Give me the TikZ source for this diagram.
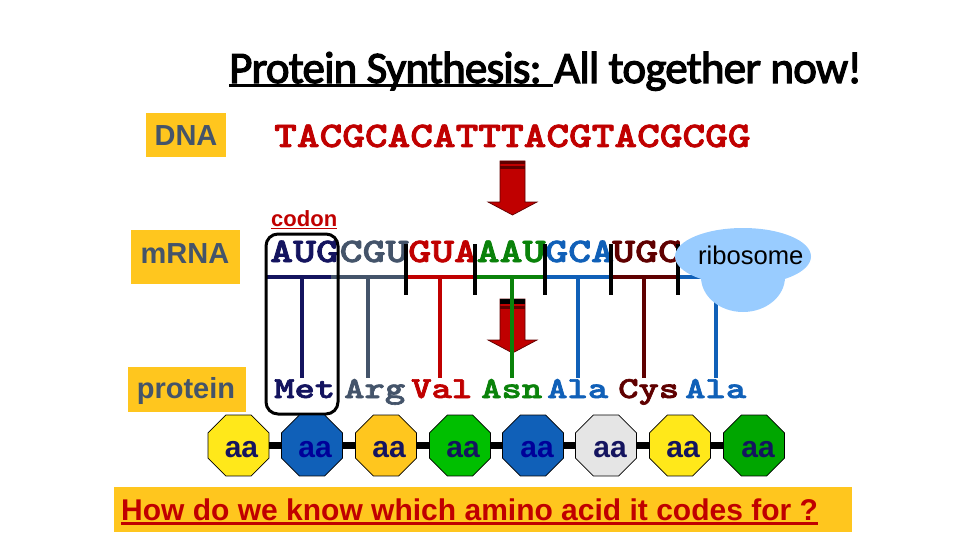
\documentclass[tikz,border=0pt]{standalone}
\usepackage{fontspec}
\usepackage{graphicx}
\usetikzlibrary{shapes.geometric}
\setmainfont{Liberation Sans}
\newfontfamily\titlefont[LetterSpace=-1.8]{Carlito}
\definecolor{boxor}{HTML}{FFC61E}
\definecolor{slate}{HTML}{44546A}
\definecolor{darkred}{HTML}{C00000}
\definecolor{navy}{HTML}{14145F}
\definecolor{grn}{HTML}{0A820A}
\definecolor{blu}{HTML}{1060B8}
\definecolor{maroon}{HTML}{5F0000}
\definecolor{ribo}{HTML}{99CCFF}
\definecolor{yel}{HTML}{FFE81A}
\newcommand{\emb}[2]{\special{pdf:code 2 Tr #1 w}#2\special{pdf:code 0 Tr 1 w}}
\newcommand{\cdn}[1]{{\ttfamily\bfseries\fontsize{34.4}{36}\selectfont\scalebox{1.27}[1]{\emb{0.7}{#1}}}}
\newcommand{\amn}[1]{{\ttfamily\bfseries\fontsize{30.5}{32}\selectfont\scalebox{1.27}[1]{\emb{0.6}{#1}}}}
\newcommand{\dnaq}[1]{{\ttfamily\bfseries\fontsize{36}{38}\selectfont\scalebox{1.2}[1]{\emb{0.7}{#1}}}}
\tikzset{
  lbl/.style={inner sep=0pt,text=slate,font=\bfseries\fontsize{29}{30}\selectfont},
  txt/.style={anchor=base west,inner sep=0pt},
  octa/.style={regular polygon,regular polygon sides=8,minimum size=66pt,inner sep=0pt,draw=black,line width=.6pt},
  aatext/.style={anchor=base,inner sep=0pt,text=navy,font=\bfseries\fontsize{30}{32}\selectfont},
  rail/.style={line width=4pt},
  drop/.style={line width=3.2pt},
  tick/.style={line width=3.5pt,black},
  pep/.style={line width=7pt,black},
  bigarrow/.style={fill=darkred,draw=maroon,line width=.7pt}
}
\begin{document}
\begin{tikzpicture}[x=1pt,y=-1pt]
\useasboundingbox (0,0) rectangle (960,540);
% title
\node[txt,font=\titlefont\fontsize{45}{47}\selectfont] (title) at (229,83) {\emb{1.2}{Protein Synthesis: All together now!}};
\coordinate (tu1) at (229,85.5);
\coordinate (tu2) at (553,85.5);
\draw[line width=3.5pt] (tu1) -- (tu2);
% label boxes
\fill[boxor] (146,113) rectangle (226,157);
\node[lbl] (dna) at (186,136) {DNA};
\fill[boxor] (131,230) rectangle (240,284);
\node[lbl] (mrna) at (185,254) {mRNA};
\fill[boxor] (128,367) rectangle (246,412);
\node[lbl] (prot) at (186,391) {protein};
% DNA
\node[txt,text=darkred] (dnaseq) at (274,147) {\dnaq{TACGCACATTTACGTACGCGG}};
% arrow 1
\path[bigarrow] (500,161) -- (525,161) -- (525,202) -- (537,202) -- (512.5,215) -- (488,202) -- (500,202) -- cycle;
\fill[maroon] (500,161) rectangle (525,164);
\fill[maroon] (500,166.5) rectangle (525,169);
% codon
\node[txt,text=darkred,font=\bfseries\fontsize{22}{24}\selectfont] (codon) at (271,226) {codon};
\coordinate (cu1) at (271,228.5);
\coordinate (cu2) at (337,228.5);
\draw[darkred,line width=1.4pt] (cu1) -- (cu2);
% mRNA codons
\node[txt,text=navy] (c1) at (270,262) {\cdn{AUG}};
\node[txt,text=slate] (c2) at (339.5,262) {\cdn{CGU}};
\node[txt,text=darkred] (c3) at (408,262) {\cdn{GUA}};
\node[txt,text=grn] (c4) at (476.5,262) {\cdn{AAU}};
\node[txt,text=blu] (c5) at (545,262) {\cdn{GCA}};
\node[txt,text=maroon] (c6) at (612,262) {\cdn{UGC}};
% amino acids
\node[txt,text=navy] (a1) at (274,398) {\amn{Met}};
\node[txt,text=slate] (a2) at (344,398) {\amn{Arg}};
\node[txt,text=darkred] (a3) at (411,398) {\amn{Val}};
\node[txt,text=grn] (a4) at (481,398) {\amn{Asn}};
\node[txt,text=blu] (a5) at (547,398) {\amn{Ala}};
\node[txt,text=maroon] (a6) at (618,398) {\amn{Cys}};
\node[txt,text=blu] (a7) at (685,398) {\amn{Ala}};
% arrow 2
\path[bigarrow] (500,299) -- (525,299) -- (525,340) -- (537,340) -- (512.5,353) -- (488,340) -- (500,340) -- cycle;
\fill[black] (500,299) rectangle (525,304);
\fill[maroon] (500,306) rectangle (525,309);
% rails
\coordinate (r0) at (266,277); \coordinate (r1) at (331,277); \coordinate (r2) at (405,277);
\coordinate (r3) at (475,277); \coordinate (r4) at (543,277); \coordinate (r5) at (612,277);
\coordinate (r6) at (677,277); \coordinate (r7) at (703,277);
\draw[rail,navy] (r0) -- (r1);
\draw[rail,slate] (r1) -- (r2);
\draw[rail,darkred] (r2) -- (r3);
\draw[rail,grn] (r3) -- (r4);
\draw[rail,blu] (r4) -- (r5);
\draw[rail,maroon] (r5) -- (r6);
\draw[rail,blu] (r6) -- (r7);
% drops
\draw[drop,navy] (302,277) -- (302,378);
\draw[drop,slate] (368,277) -- (368,378);
\draw[drop,darkred] (440,277) -- (440,378);
\draw[drop,grn] (512,277) -- (512,378);
\draw[drop,blu] (578,277) -- (578,378);
\draw[drop,maroon] (644,277) -- (644,378);
\draw[drop,blu] (716,290) -- (716,378);
% ticks
\draw[tick] (406,244) -- (406,295);
\draw[tick] (475,244) -- (475,295);
\draw[tick] (545,244) -- (545,295);
\draw[tick] (611,244) -- (611,295);
\draw[tick] (678,244) -- (678,295);
% codon box
\draw[line width=3pt,rounded corners=12pt] (266,234) rectangle (338,414);
% ribosome
\fill[ribo] (743,277) ellipse [x radius=42,y radius=35];
\fill[ribo] (743,256.5) ellipse [x radius=68,y radius=28.5];
\node[txt,text=black,font=\fontsize{25.6}{27}\selectfont] (ribosome) at (698,264) {ribosome};
% amino acid chain
\node[octa,fill=yel] (o1) at (238.5,445.5) {};
\node[octa,fill=blu] (o2) at (312,445.5) {};
\node[octa,fill=boxor] (o3) at (386,445.5) {};
\node[octa,fill=green!75!black] (o4) at (460,445.5) {};
\node[octa,fill=blu] (o5) at (533,445.5) {};
\node[octa,fill=black!10] (o6) at (606,445.5) {};
\node[octa,fill=yel] (o7) at (680,445.5) {};
\node[octa,fill=green!65!black] (o8) at (754,445.5) {};
\draw[pep] (o1) -- (o2);
\draw[pep] (o2) -- (o3);
\draw[pep] (o3) -- (o4);
\draw[pep] (o4) -- (o5);
\draw[pep] (o5) -- (o6);
\draw[pep] (o6) -- (o7);
\draw[pep] (o7) -- (o8);
\node[aatext] (t1) at (241.5,457) {aa};
\node[aatext,text=blue!60!black] (t2) at (315,457) {aa};
\node[aatext] (t3) at (389,457) {aa};
\node[aatext] (t4) at (463,457) {aa};
\node[aatext,text=blue!60!black] (t5) at (537,457) {aa};
\node[aatext] (t6) at (610,457) {aa};
\node[aatext] (t7) at (683,457) {aa};
\node[aatext] (t8) at (758,457) {aa};
% question
\fill[boxor] (114,487) rectangle (852,532);
\node[txt,text=darkred,font=\bfseries\fontsize{30}{32}\selectfont] (q) at (121,520) {How do we know which amino acid it codes for ?};
\coordinate (qu1) at (121,523.5);
\coordinate (qu2) at (818,523.5);
\draw[darkred,line width=2.6pt] (qu1) -- (qu2);
\end{tikzpicture}
\end{document}
